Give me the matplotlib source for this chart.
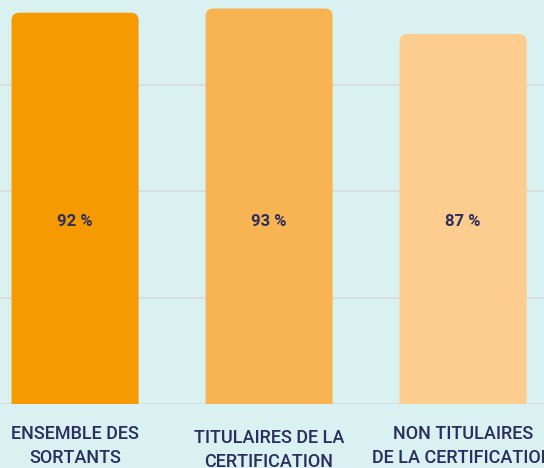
import matplotlib.pyplot as plt
from matplotlib.patches import FancyBboxPatch
from matplotlib.transforms import ScaledTranslation

categories = ["ENSEMBLE DES\nSORTANTS", "TITULAIRES DE LA\nCERTIFICATION", "NON TITULAIRES\nDE LA CERTIFICATION"]
values = [92, 93, 87]
labels = ["92 %", "93 %", "87 %"]
colors = ["#f59a00", "#f8b352", "#fccd8e"]

bg = "#d9f1f1"
navy = "#2c2e5e"

plt.rcParams['font.family'] = ['Roboto', 'DejaVu Sans']

fig = plt.figure(figsize=(5.44, 4.68), dpi=100, facecolor=bg)
ax = fig.add_axes([0, 1 - 404 / 468, 1, 404 / 468])
ax.set_facecolor(bg)

width = 0.655
x = list(range(len(values)))
bars = ax.bar(x, values, width=width, color=colors, alpha=0)

# rounded tops, bottom part hidden under the axis
for b, c in zip(bars, colors):
    p = FancyBboxPatch((b.get_x(), -5), b.get_width(), b.get_height() + 5,
                       boxstyle="round,pad=0,rounding_size=0.04",
                       mutation_aspect=46, facecolor=c, edgecolor="none", zorder=3)
    ax.add_patch(p)

for xi, t in zip(x, labels):
    ax.text(xi, 43, t, ha="center", va="center", fontsize=12, fontweight="bold",
            color=navy, zorder=4)

ax.set_ylim(0, 95)
ax.set_xlim(-0.387, 2.417)
ax.set_yticks([0, 25, 50, 75])
ax.yaxis.grid(True, color="#d9d9d9", linewidth=1.2)
ax.set_axisbelow(True)
ax.tick_params(axis="y", left=False, labelleft=False)
ax.tick_params(axis="x", length=0, pad=15)
for s in ax.spines.values():
    s.set_visible(False)

ax.set_xticks(x)
ax.set_xticklabels(categories, fontsize=13, fontweight="medium", color=navy, linespacing=1.45)
tl = ax.get_xticklabels()
tl[1].set_transform(tl[1].get_transform() + ScaledTranslation(0, -4 / 100, fig.dpi_scale_trans))

fig.savefig("out.png", dpi=100, facecolor=bg)
